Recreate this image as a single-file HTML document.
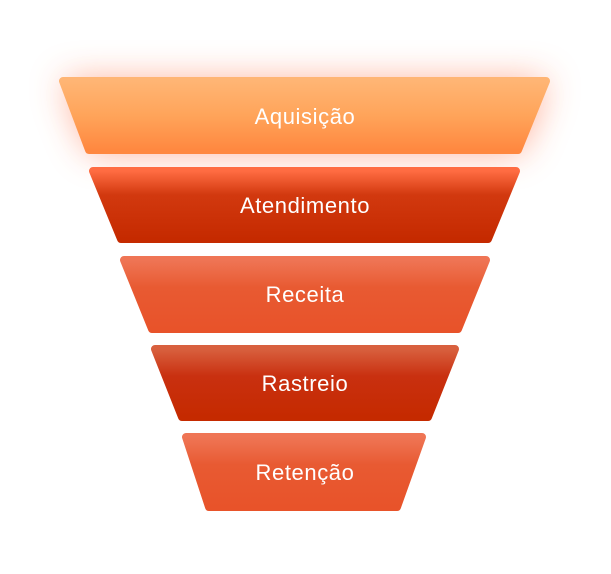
<!DOCTYPE html>
<html><head><style>
html,body{margin:0;padding:0;background:#fff;width:611px;height:574px;overflow:hidden}
svg{display:block}
text{font-family:"Liberation Sans",sans-serif;font-size:22px;fill:#fff;text-anchor:middle;letter-spacing:0.6px}
</style></head><body>
<svg width="611" height="574" viewBox="0 0 611 574" xmlns="http://www.w3.org/2000/svg">
<defs>
<filter id="glow" x="-30%" y="-100%" width="160%" height="300%"><feGaussianBlur stdDeviation="18"/></filter>
<filter id="soft" x="-20%" y="-20%" width="140%" height="140%"><feGaussianBlur stdDeviation="6"/></filter>
<linearGradient id="g1" x1="0" y1="0" x2="0" y2="1"><stop offset="0" stop-color="#ffb574"/><stop offset="0.5" stop-color="#ffa45a"/><stop offset="1" stop-color="#ff8840"/></linearGradient>
<linearGradient id="g2" x1="0" y1="0" x2="0" y2="1"><stop offset="0" stop-color="#ff6c42"/><stop offset="0.35" stop-color="#d2390f"/><stop offset="1" stop-color="#c52a00"/></linearGradient>
<linearGradient id="g3" x1="0" y1="0" x2="0" y2="1"><stop offset="0" stop-color="#ef7555"/><stop offset="0.4" stop-color="#e85a32"/><stop offset="1" stop-color="#e8532a"/></linearGradient>
<linearGradient id="g4" x1="0" y1="0" x2="0" y2="1"><stop offset="0" stop-color="#d8603e"/><stop offset="0.4" stop-color="#c93010"/><stop offset="1" stop-color="#c52a00"/></linearGradient>
</defs>
<polygon points="62,80 548,80 520,152 90,152" fill="#ff6a40" opacity="0.55" filter="url(#glow)"/>
<g stroke-linejoin="round" stroke-width="8">
<polygon points="63,81 546,81 518,150 89,150" fill="url(#g1)" stroke="url(#g1)"/>
<polygon points="93,171 516,171 488,239 121,239" fill="url(#g2)" stroke="url(#g2)"/>
<polygon points="124,260 486,260 458,329 152,329" fill="url(#g3)" stroke="url(#g3)"/>
<polygon points="155,349 455,349 428,417 182,417" fill="url(#g4)" stroke="url(#g4)"/>
<polygon points="186,437 422,437 397,507 209,507" fill="url(#g3)" stroke="url(#g3)"/>
</g>
<text x="305" y="124">Aquisição</text>
<text x="305" y="213">Atendimento</text>
<text x="305" y="302">Receita</text>
<text x="305" y="391">Rastreio</text>
<text x="305" y="480">Retenção</text>
</svg>
</body></html>
